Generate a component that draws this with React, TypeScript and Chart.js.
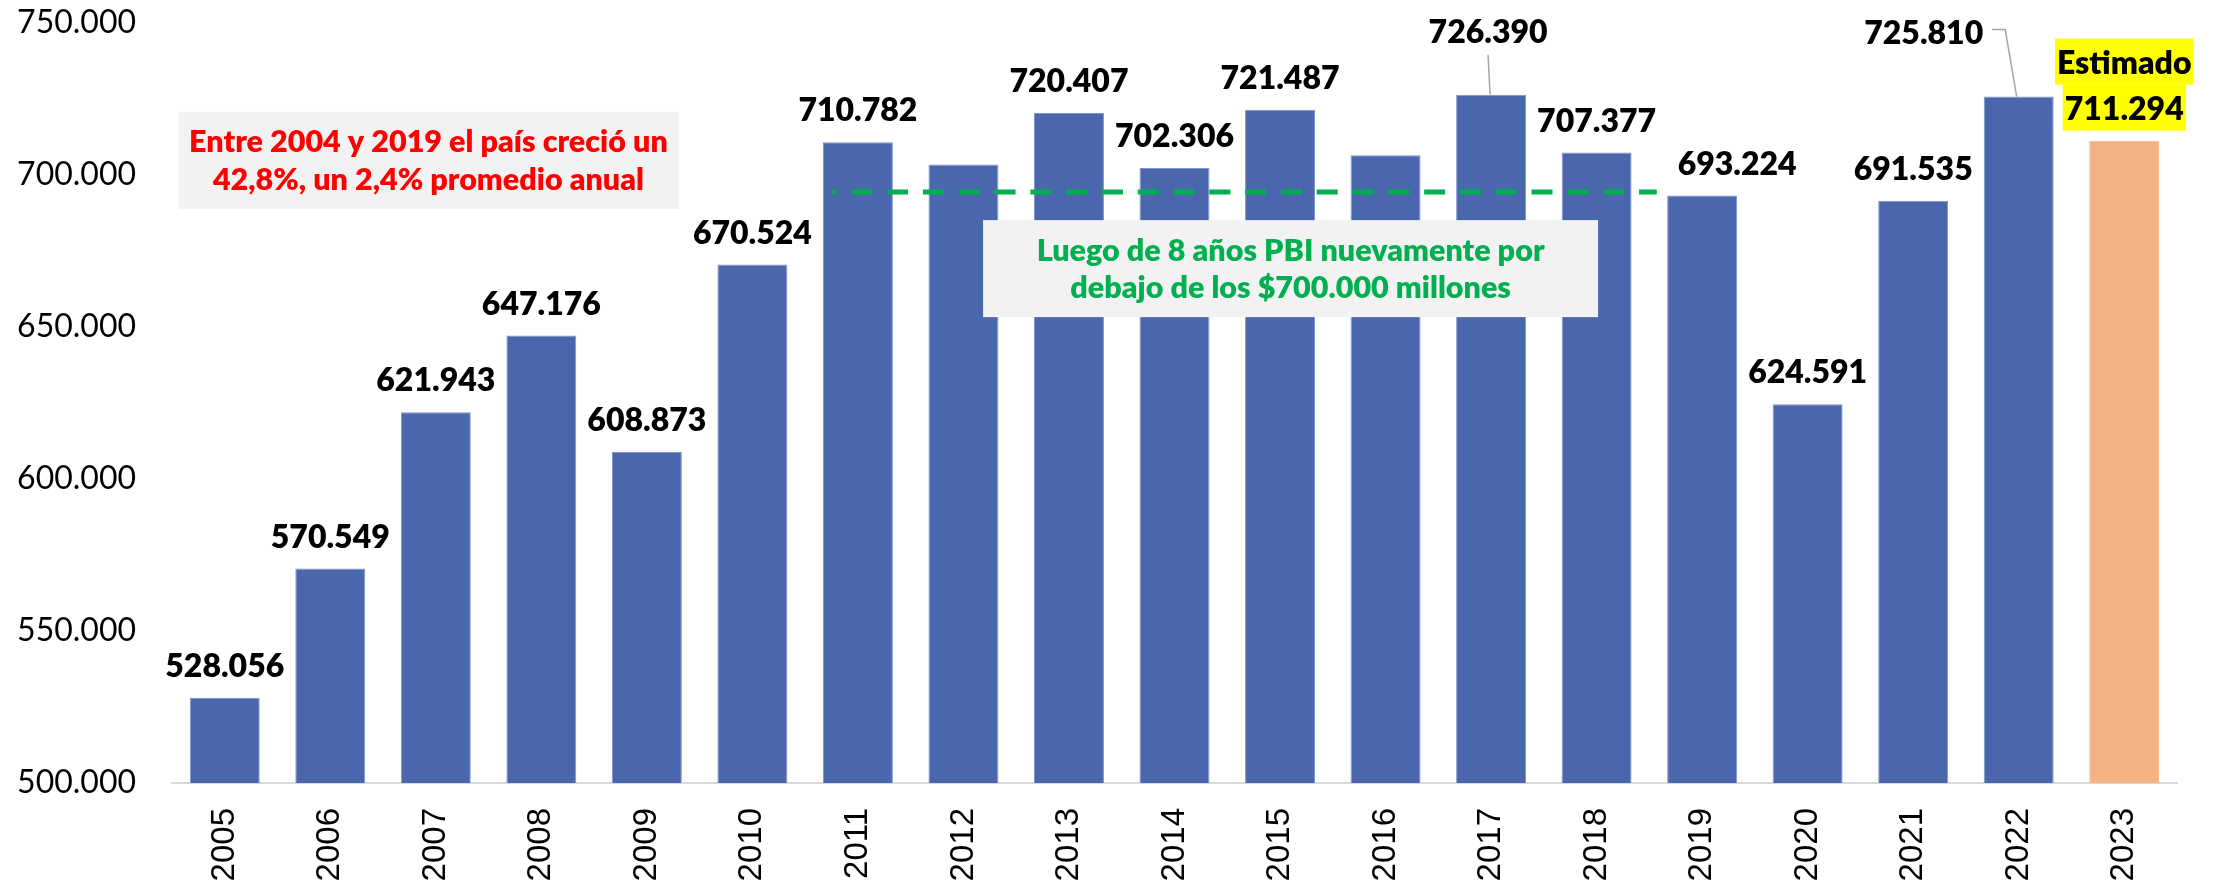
import { useEffect, useRef } from 'react';
import { Chart, registerables } from 'chart.js';

Chart.register(...registerables);

// ---------- data ----------
const years = ['2005', '2006', '2007', '2008', '2009', '2010', '2011', '2012', '2013', '2014', '2015', '2016', '2017', '2018', '2019', '2020', '2021', '2022', '2023'];
const gdp = [528056, 570549, 621943, 647176, 608873, 670524, 710782, 703486, 720407, 702306, 721487, 706478, 726390, 707377, 693224, 624591, 691535, 725810, 711294];
const estimatedYears = ['2023'];
const hiddenLabelYears = ['2012', '2016'];
const yMin = 500000;
const yMax = 750000;
const yStep = 50000;
const thresholdValue = 694400;
const thresholdFromIndex = 5.75;
const thresholdToIndex = 13.57;
const estimateCaption = 'Estimado';
const redNoteLines = ['Entre 2004 y 2019 el país creció un', '42,8%, un 2,4% promedio anual'];
const greenNoteLines = ['Luego de 8 años PBI nuevamente por', 'debajo de los $700.000 millones'];

// ---------- presentation ----------
const BLUE = '#4A66AC';
const ORANGE = '#F4B183';
const GREEN = '#00B050';
const RED = '#FF0000';
const LABEL_FONT = '800 32px Lato';
const NOTE_FONT = '800 30.5px Lato';
const LABEL_GAP = 21;
const LABEL_NUDGES: Record<string, { dx: number; dy: number; leader?: 'vertical' | 'elbow' }> = {
  '2017': { dx: -3, dy: -31, leader: 'vertical' },
  '2019': { dx: 35, dy: 0 },
  '2022': { dx: -95, dy: -32, leader: 'elbow' },
};
const NOTES = [
  { lines: redNoteLines, color: RED, cx: 1.93, cy: 704800, w: 500, h: 97 },
  { lines: greenNoteLines, color: GREEN, cx: 10.1, cy: 669200, w: 615, h: 97 },
];

const fmt = (v: number) => Math.round(v).toString().replace(/\B(?=(\d{3})+(?!\d))/g, '.');

const overlayPlugin = {
  id: 'overlay',
  afterDatasetsDraw(chart: any) {
    const { ctx } = chart;
    const x = chart.scales.x;
    const y = chart.scales.y;
    const meta = chart.getDatasetMeta(0);
    ctx.save();

    // dashed threshold line
    const ly = y.getPixelForValue(thresholdValue);
    ctx.strokeStyle = GREEN;
    ctx.lineWidth = 5;
    ctx.setLineDash([21, 14.8]);
    ctx.lineDashOffset = 16;
    ctx.beginPath();
    ctx.moveTo(x.getPixelForValue(thresholdFromIndex), ly);
    ctx.lineTo(x.getPixelForValue(thresholdToIndex), ly);
    ctx.stroke();
    ctx.setLineDash([]);
    ctx.lineDashOffset = 0;

    // note boxes
    for (const n of NOTES) {
      const cx = x.getPixelForValue(n.cx);
      const cy = y.getPixelForValue(n.cy);
      ctx.fillStyle = '#F2F2F2';
      ctx.fillRect(cx - n.w / 2, cy - n.h / 2, n.w, n.h);
      ctx.fillStyle = n.color;
      ctx.font = NOTE_FONT;
      ctx.textAlign = 'center';
      ctx.textBaseline = 'alphabetic';
      ctx.fillText(n.lines[0], cx, cy - 8);
      ctx.fillText(n.lines[1], cx, cy + 29.5);
    }

    // data labels
    ctx.font = LABEL_FONT;
    ctx.textAlign = 'center';
    ctx.textBaseline = 'alphabetic';
    meta.data.forEach((bar: any, i: number) => {
      const year = years[i];
      if (hiddenLabelYears.includes(year)) return;
      const text = fmt(gdp[i]);
      const nudge = LABEL_NUDGES[year] || { dx: 0, dy: 0 };
      const lx = bar.x + nudge.dx;
      const base = bar.y - LABEL_GAP + nudge.dy;
      const tw = ctx.measureText(text).width;
      if (estimatedYears.includes(year)) {
        const cw = ctx.measureText(estimateCaption).width;
        const b1 = base - 46;
        ctx.fillStyle = '#FFFF00';
        ctx.fillRect(lx - cw / 2 - 2, b1 - 35, cw + 4, 46);
        ctx.fillRect(lx - tw / 2 - 2, base - 35, tw + 4, 46);
        ctx.fillStyle = '#000';
        ctx.fillText(estimateCaption, lx, b1);
        ctx.fillText(text, lx, base);
        return;
      }
      if (nudge.leader) {
        ctx.strokeStyle = '#A6A6A6';
        ctx.lineWidth = 1.5;
        ctx.beginPath();
        if (nudge.leader === 'vertical') {
          ctx.moveTo(lx, base + 12);
          ctx.lineTo(bar.x - 1, bar.y);
        } else {
          const my = base - 14;
          ctx.moveTo(lx + tw / 2 + 9, my);
          ctx.lineTo(lx + tw / 2 + 22, my);
          ctx.lineTo(bar.x - 2, bar.y);
        }
        ctx.stroke();
      }
      ctx.fillStyle = '#000';
      ctx.fillText(text, lx, base);
    });
    ctx.restore();
  },
};

export default function App() {
  const ref = useRef<HTMLCanvasElement>(null);
  useEffect(() => {
    document.body.style.margin = '0';
    const chart = new Chart(ref.current!, {
      type: 'bar',
      data: {
        labels: years,
        datasets: [
          {
            data: gdp,
            backgroundColor: years.map((yr) => (estimatedYears.includes(yr) ? ORANGE : BLUE)),
            borderColor: years.map((yr) => (estimatedYears.includes(yr) ? ORANGE : '#7F95CC')),
            borderWidth: 1,
            categoryPercentage: 1,
            barPercentage: 0.663,
          },
        ],
      },
      options: {
        responsive: false,
        animation: false,
        layout: { padding: { top: 23, right: 49, left: 0, bottom: 0 } },
        plugins: { legend: { display: false }, tooltip: { enabled: false } },
        scales: {
          x: {
            grid: { display: false, drawTicks: false },
            border: { display: true, color: '#D9D9D9', width: 2 },
            ticks: {
              autoSkip: false,
              minRotation: 90,
              maxRotation: 90,
              padding: 25,
              color: '#000',
              font: { family: '"Liberation Sans", Arial, sans-serif', size: 33 },
            },
            afterFit: (s: any) => {
              s.height = 102;
              s.paddingLeft = 0;
              s.paddingRight = 0;
            },
          },
          y: {
            min: yMin,
            max: yMax,
            grid: { display: false, drawTicks: false },
            border: { display: false },
            ticks: {
              stepSize: yStep,
              padding: 36,
              color: '#000',
              font: { family: 'Lato', size: 32 },
              callback: (v: any) => fmt(Number(v)),
            },
            afterFit: (s: any) => {
              s.width = 172;
              s.paddingTop = 0;
              s.paddingBottom = 0;
            },
          },
        },
      },
      plugins: [overlayPlugin],
    });
    return () => chart.destroy();
  }, []);
  return (
    <div style={{ position: 'absolute', left: 0, top: 0, width: 2226, height: 885, background: '#fff' }}>
      <canvas ref={ref} width={2226} height={885} style={{ display: 'block' }} />
    </div>
  );
}
